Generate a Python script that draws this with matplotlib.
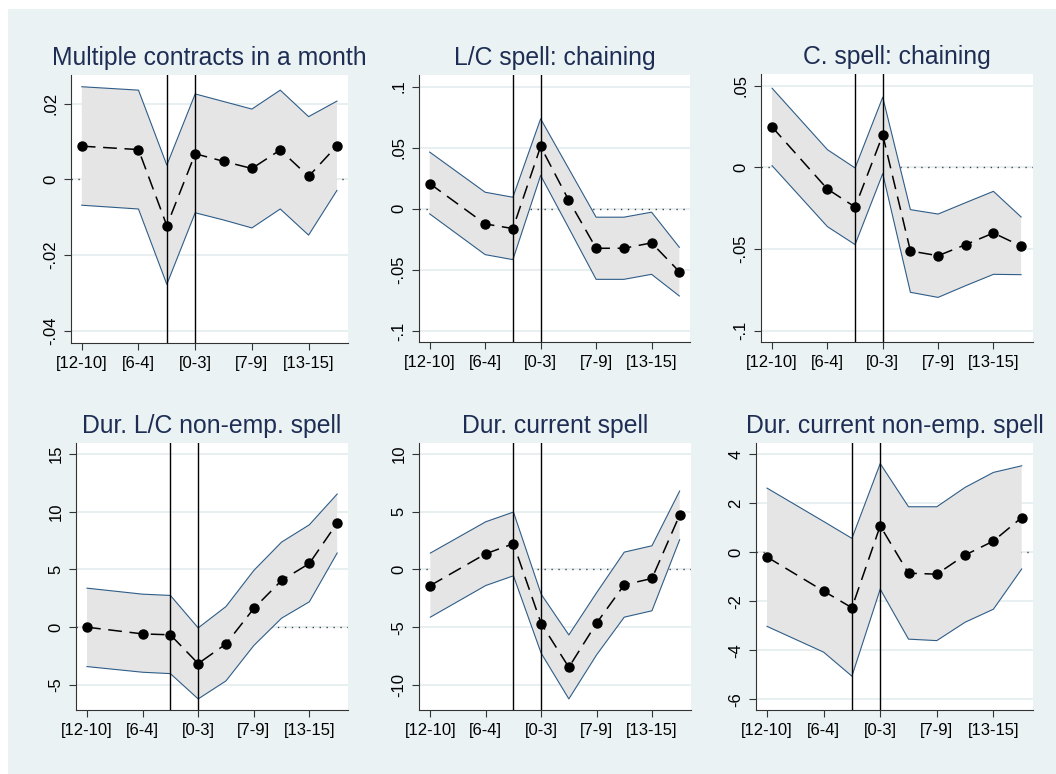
import matplotlib.pyplot as plt
import matplotlib.patches as mpatches
import numpy as np

plt.rcParams['font.family'] = ['Liberation Sans', 'DejaVu Sans']

# event-time positions (no point at position 2)
pos = [1, 3, 4, 5, 6, 7, 8, 9, 10]
xtick_pos = [1, 3, 5, 7, 9]
xtick_lab = ['[12-10]', '[6-4]', '[0-3]', '[7-9]', '[13-15]']

titles = ['Multiple contracts in a month', 'L/C spell: chaining', 'C. spell: chaining',
          'Dur. L/C non-emp. spell', 'Dur. current spell', 'Dur. current non-emp. spell']

# point estimates
b_multi = [0.0088, 0.0079, -0.0122, 0.0068, 0.0048, 0.0029, 0.0078, 0.0008, 0.0089]
b_lc_chain = [0.0207, -0.0123, -0.0161, 0.0510, 0.0076, -0.0322, -0.0322, -0.0278, -0.0513]
b_c_chain = [0.0247, -0.0133, -0.0243, 0.0198, -0.0512, -0.0541, -0.0473, -0.0402, -0.0482]
b_dur_lc = [0.0, -0.58, -0.66, -3.15, -1.45, 1.62, 4.05, 5.52, 9.02]
b_dur_cur = [-1.39, 1.36, 2.23, -4.68, -8.47, -4.65, -1.33, -0.78, 4.71]
b_dur_cne = [-0.20, -1.59, -2.27, 1.07, -0.86, -0.90, -0.12, 0.45, 1.41]

# upper confidence bounds
hi_multi = [0.0245, 0.0236, 0.0038, 0.0226, 0.0206, 0.0186, 0.0236, 0.0166, 0.0207]
hi_lc_chain = [0.0464, 0.0136, 0.0095, 0.0736, 0.0334, -0.0068, -0.0068, -0.0027, -0.0314]
hi_c_chain = [0.0484, 0.0108, -0.0004, 0.0429, -0.0259, -0.0286, -0.0216, -0.0147, -0.0304]
hi_dur_lc = [3.38, 2.86, 2.75, -0.06, 1.79, 4.91, 7.37, 8.87, 11.53]
hi_dur_cur = [1.42, 4.13, 4.97, -2.14, -5.67, -2.02, 1.50, 2.05, 6.79]
hi_dur_cne = [2.61, 1.25, 0.56, 3.61, 1.85, 1.85, 2.64, 3.25, 3.52]

# lower confidence bounds
lo_multi = [-0.0068, -0.0078, -0.0277, -0.0088, -0.0107, -0.0128, -0.0078, -0.0147, -0.0029]
lo_lc_chain = [-0.0041, -0.0374, -0.0415, 0.0273, -0.0150, -0.0576, -0.0576, -0.0535, -0.0712]
lo_c_chain = [0.0010, -0.0363, -0.0473, -0.0039, -0.0765, -0.0796, -0.0724, -0.0655, -0.0657]
lo_dur_lc = [-3.41, -3.90, -4.02, -6.21, -4.65, -1.59, 0.78, 2.20, 6.42]
lo_dur_cur = [-4.13, -1.39, -0.55, -7.25, -11.21, -7.40, -4.13, -3.58, 2.57]
lo_dur_cne = [-3.03, -4.08, -5.06, -1.51, -3.55, -3.61, -2.86, -2.33, -0.69]

# y ticks per panel
yt_multi = [-0.04, -0.02, 0, 0.02]
yl_multi = ['-.04', '-.02', '0', '.02']
yt_chain = [-0.1, -0.05, 0, 0.05, 0.1]
yl_chain = ['-.1', '-.05', '0', '.05', '.1']
yt_c = [-0.1, -0.05, 0, 0.05]
yl_c = ['-.1', '-.05', '0', '.05']
yt_lc = [-5, 0, 5, 10, 15]
yt_cur = [-10, -5, 0, 5, 10]
yt_cne = [-6, -4, -2, 0, 2, 4]

panels = [
    (b_multi, hi_multi, lo_multi, yt_multi, yl_multi, (-0.0432, 0.0276), (0.62, 10.39), (71, 75, 348, 343)),
    (b_lc_chain, hi_lc_chain, lo_lc_chain, yt_chain, yl_chain, (-0.1088, 0.1094), (0.615, 10.385), (419, 75, 690, 342)),
    (b_c_chain, hi_c_chain, lo_c_chain, yt_c, yl_c, (-0.1069, 0.0571), (0.60, 10.43), (761, 74, 1033, 342)),
    (b_dur_lc, hi_dur_lc, lo_dur_lc, yt_lc, [str(t) for t in yt_lc], (-7.17, 15.95), (0.604, 10.39), (76, 443, 348, 710)),
    (b_dur_cur, hi_dur_cur, lo_dur_cur, yt_cur, [str(t) for t in yt_cur], (-12.17, 10.95), (0.59, 10.41), (419, 443, 691, 710)),
    (b_dur_cne, hi_dur_cne, lo_dur_cne, yt_cne, [str(t) for t in yt_cne], (-6.44, 4.45), (0.61, 10.40), (756, 443, 1033, 710)),
]

W, H = 1056, 774
fig = plt.figure(figsize=(W / 100, H / 100), dpi=100)
fig.patch.set_facecolor('white')
bg = mpatches.Rectangle((8 / W, 0), 1 - 8 / W, 1 - 9 / H, transform=fig.transFigure,
                        facecolor='#eaf2f3', edgecolor='none', zorder=-10)
fig.patches.append(bg)

for i, (b, hi, lo, yt, yl, ylim, xlim, box) in enumerate(panels):
    l, t, r, bt = box
    ax = fig.add_axes([l / W, 1 - bt / H, (r - l) / W, (bt - t) / H])
    ax.set_facecolor('white')
    ax.set_xlim(*xlim)
    ax.set_ylim(*ylim)
    for y in yt:
        ax.axhline(y, color='#e4ecef', lw=1.2, zorder=0)
    ax.axhline(0, color='#444444', lw=1.0, ls=(0, (1, 4)), zorder=1)
    ax.fill_between(pos, lo, hi, facecolor='#e5e5e5', edgecolor='none', zorder=2)
    ax.plot(pos, hi, color='#2f5d88', lw=0.8, zorder=3)
    ax.plot(pos, lo, color='#2f5d88', lw=0.8, zorder=3)
    ax.axvline(4, color='black', lw=1.0, zorder=4)
    ax.axvline(5, color='black', lw=1.0, zorder=4)
    ax.plot(pos, b, color='black', lw=1.1, ls=(0, (9, 5)), marker='o', ms=6.5, zorder=5)
    ax.set_xticks(xtick_pos)
    ax.set_xticklabels(xtick_lab, fontsize=12)
    ax.set_yticks(yt)
    ax.set_yticklabels(yl, fontsize=12, rotation=90, va='center')
    ax.tick_params(length=5, width=0.8, color='#333333', pad=4)
    for s in ['top', 'right']:
        ax.spines[s].set_visible(False)
    for s in ['left', 'bottom']:
        ax.spines[s].set_color('#333333')
        ax.spines[s].set_linewidth(0.8)
    ax.set_title(titles[i], fontsize=17.8, color='#1e2d54', pad=7)

plt.savefig('out.png', dpi=100)
